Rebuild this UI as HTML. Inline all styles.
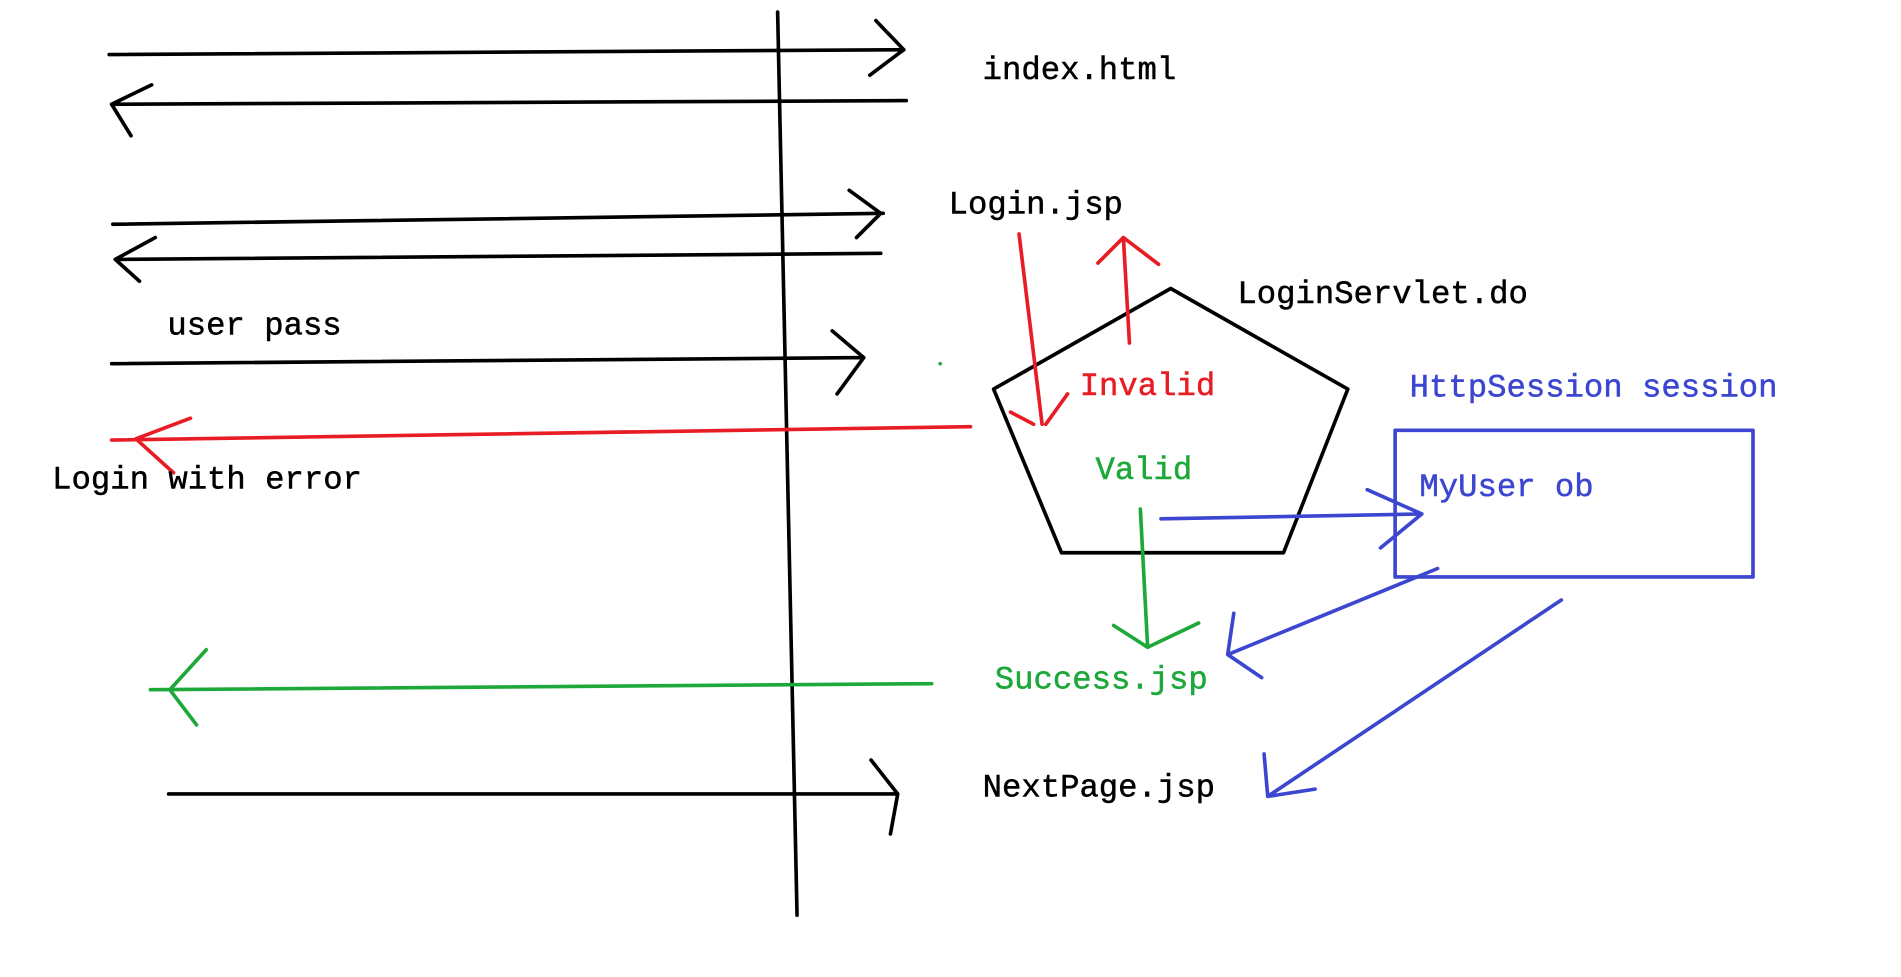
<!DOCTYPE html>
<html><head><meta charset="utf-8"><style>
html,body{margin:0;padding:0;background:#fff;width:1901px;height:977px;overflow:hidden}
svg{display:block}
text{font-family:"Liberation Mono",monospace;font-size:26.6px}
</style></head><body>
<svg width="1901" height="977" viewBox="0 0 1567 806" preserveAspectRatio="none" xmlns="http://www.w3.org/2000/svg">
<rect width="1567" height="806" fill="#fff"/>
<g fill="none" stroke-width="3" stroke-linecap="round" stroke-linejoin="round">
<path d="M641 10 L657 755" stroke="#000"/>
<path d="M90 45 L745 41 M722 17 L745 41 L717 62" stroke="#000"/>
<path d="M747 83 L92 86 M125 70 L92 86 L108 112" stroke="#000"/>
<path d="M93 185 L728 176 M700 157 L726 176 L706 196" stroke="#000"/>
<path d="M726 209 L95 214 M128 196 L95 214 L115 232" stroke="#000"/>
<path d="M92 300 L712 295 M686 273 L712 295 L690 325" stroke="#000"/>
<path d="M139 655 L740 655 M718 627 L740 655 L734 688" stroke="#000"/>
<path d="M965 238 L1111 321 L1058 456 L875 456 L819 321 Z" stroke="#000"/>
<path d="M800 352 L92 363 M157 345 L112 362 L143 390" stroke="#e81c24"/>
<path d="M840 193 L859 350 M880 325 L862 350 M833 340 L852 350" stroke="#e81c24"/>
<path d="M931 283 L926 196 M905 217 L926 196 L955 218" stroke="#e81c24"/>
<path d="M124 569 L768 564 M170 536 L140 569 L162 598" stroke="#1ea83a"/>
<path d="M940 420 L946 534 M918 516 L946 534 L988 514" stroke="#1ea83a"/>
<rect x="1150" y="355" width="295" height="121" stroke="#3c46d0"/>
<path d="M957 428 L1172 424 M1127 404 L1172 424 L1138 452" stroke="#3c46d0"/>
<path d="M1185 469 L1012 540 M1017 506 L1012 540 L1040 559" stroke="#3c46d0"/>
<path d="M1287 495 L1045 657 M1042 622 L1045 657 L1084 651" stroke="#3c46d0"/>
</g>
<circle cx="775" cy="300" r="1.5" fill="#1ea83a"/>
<g stroke-width="0.4">
<text x="810" y="65" fill="#000" stroke="#000">index.html</text>
<text x="782" y="176" fill="#000" stroke="#000">Login.jsp</text>
<text x="1020" y="250" fill="#000" stroke="#000">LoginServlet.do</text>
<text x="138" y="276" fill="#000" stroke="#000">user pass</text>
<text x="43" y="403" fill="#000" stroke="#000">Login with error</text>
<text x="890" y="326" fill="#e81c24" stroke="#e81c24">Invalid</text>
<text x="903" y="395" fill="#1ea83a" stroke="#1ea83a">Valid</text>
<text x="1162" y="327" fill="#3c46d0" stroke="#3c46d0">HttpSession session</text>
<text x="1170" y="409" fill="#3c46d0" stroke="#3c46d0">MyUser ob</text>
<text x="820" y="568" fill="#1ea83a" stroke="#1ea83a">Success.jsp</text>
<text x="810" y="657" fill="#000" stroke="#000">NextPage.jsp</text>
</g>
</svg>
</body></html>
